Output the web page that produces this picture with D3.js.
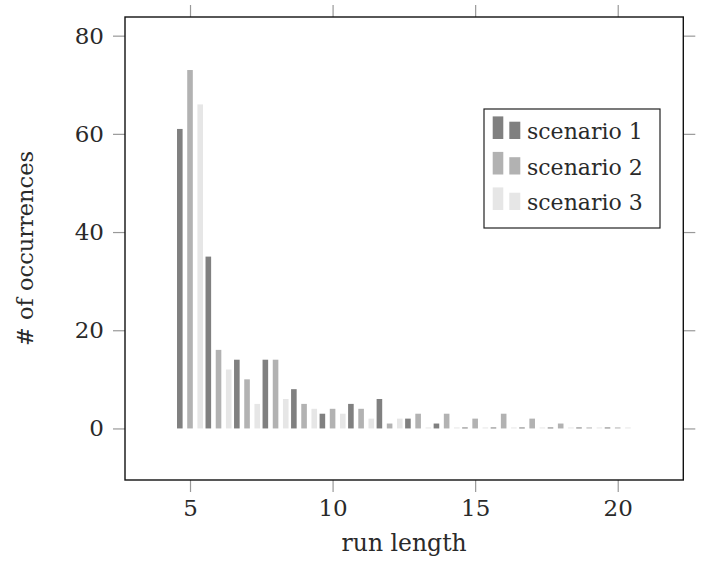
<!DOCTYPE html>
<html>
<head>
<meta charset="utf-8">
<script src="https://cdn.jsdelivr.net/npm/d3@7"></script>
<style>
  body { margin: 0; background: #fff; }
  text { font-family: "DejaVu Serif", serif; fill: #2a2a2a; }
</style>
</head>
<body>
<div id="chart"></div>
<script>

    // run lengths on the x axis
    var runLengths = [5, 6, 7, 8, 9, 10, 11, 12, 13, 14, 15, 16, 17, 18, 19, 20];
    // occurrences per scenario
    var scenario1 = [61, 35, 14, 14, 8, 3, 5, 6, 2, 1, 0, 0, 0, 0, 0, 0];
    var scenario2 = [73, 16, 10, 14, 5, 4, 4, 1, 3, 3, 2, 3, 2, 1, 0, 0];
    var scenario3 = [66, 12, 5, 6, 4, 3, 2, 2, 0, 0, 0, 0, 0, 0, 0, 0];
    var seriesNames = ["scenario 1", "scenario 2", "scenario 3"];
    var xTicks = [5, 10, 15, 20];
    var yTicks = [0, 20, 40, 60, 80];

    var colors = ["#808080", "#b2b2b2", "#e6e6e6"];

    var width = 703, height = 562;
    var margin = { top: 17, right: 20, bottom: 82, left: 125 };

    var svg = d3.select("#chart")
      .append("svg")
      .attr("width", width)
      .attr("height", height);

    var x = d3.scaleLinear()
      .domain([2.72, 22.3])
      .range([margin.left, 683.3]);

    var y = d3.scaleLinear()
      .domain([-10.5, 83.8])
      .range([480, margin.top]);

    //=========================================================================
    // Bars
    //=========================================================================
    var allSeries = [scenario1, scenario2, scenario3];
    var barWidth = 5.6, barShift = 10.2;

    allSeries.forEach(function(vals, s){
      svg.append("g")
        .selectAll("rect")
        .data(vals)
        .enter()
        .append("rect")
        .attr("x", function(d, i){ return x(runLengths[i]) + (s - 1) * barShift - barWidth / 2; })
        .attr("y", function(d){ return Math.min(y(d), y(0) - 1); })
        .attr("width", barWidth)
        .attr("height", function(d){ return Math.max(1, y(0) - y(d)); })
        .attr("fill", colors[s]);
    });

    //=========================================================================
    // Axes (ticks outward on all four sides)
    //=========================================================================
    var tickLen = 12;
    function styleAxis(g){
      g.select(".domain").remove();
      g.selectAll(".tick line").attr("stroke", "#999").attr("stroke-width", 1.2);
      g.selectAll(".tick text")
        .style("font-family", "DejaVu Serif, serif")
        .style("font-size", "23px")
        .attr("fill", "#2a2a2a");
    }

    svg.append("g")
      .attr("transform", "translate(0," + 480 + ")")
      .call(d3.axisBottom(x).tickValues(xTicks).tickSize(tickLen).tickPadding(8))
      .call(styleAxis);

    svg.append("g")
      .attr("transform", "translate(0," + margin.top + ")")
      .call(d3.axisTop(x).tickValues(xTicks).tickSize(tickLen).tickFormat(""))
      .call(styleAxis);

    svg.append("g")
      .attr("transform", "translate(" + margin.left + ",0)")
      .call(d3.axisLeft(y).tickValues(yTicks).tickSize(tickLen).tickPadding(9))
      .call(styleAxis);

    svg.append("g")
      .attr("transform", "translate(683.3,0)")
      .call(d3.axisRight(y).tickValues(yTicks).tickSize(tickLen).tickFormat(""))
      .call(styleAxis);

    // frame
    svg.append("rect")
      .attr("x", x.range()[0])
      .attr("y", y.range()[1])
      .attr("width", x.range()[1] - x.range()[0])
      .attr("height", y.range()[0] - y.range()[1])
      .attr("fill", "none")
      .attr("stroke", "#111")
      .attr("stroke-width", 1.4);

    // axis titles
    svg.append("text")
      .attr("x", (x.range()[0] + x.range()[1]) / 2)
      .attr("y", 551)
      .attr("text-anchor", "middle")
      .style("font-size", "23.5px")
      .text("run length");

    svg.append("text")
      .attr("transform", "translate(33," + ((y.range()[0] + y.range()[1]) / 2) + ") rotate(-90)")
      .attr("text-anchor", "middle")
      .style("font-size", "22.5px")
      .text("# of occurrences");

    //=========================================================================
    // Legend
    //=========================================================================
    var legend = svg.append("g").attr("transform", "translate(484,109)");
    legend.append("rect")
      .attr("width", 176)
      .attr("height", 119)
      .attr("fill", "#fff")
      .attr("stroke", "#222")
      .attr("stroke-width", 1.2);

    seriesNames.forEach(function(name, s){
      var base = 30 + s * 35.5;
      var row = legend.append("g");
      row.append("rect")
        .attr("x", 8.7).attr("y", base - 22.6)
        .attr("width", 10.6).attr("height", 22.6)
        .attr("fill", colors[s]);
      row.append("rect")
        .attr("x", 25.3).attr("y", base - 17.3)
        .attr("width", 11).attr("height", 17.3)
        .attr("fill", colors[s]);
      row.append("text")
        .attr("x", 43)
        .attr("y", base)
        .style("font-size", "22px")
        .text(name);
    });

</script>
</body>
</html>
